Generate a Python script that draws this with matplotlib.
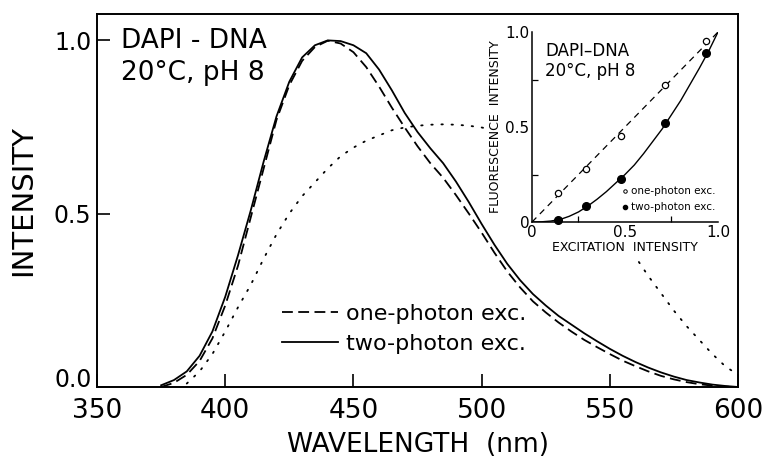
import numpy as np
import matplotlib.pyplot as plt
from matplotlib.patches import Rectangle
from matplotlib.transforms import ScaledTranslation

plt.rcParams['font.family'] = ['DejaVu Sans']

# main panel: emission spectra
wl = np.arange(375, 601, 5)
two_photon = [0.005, 0.02, 0.045, 0.09, 0.16, 0.26, 0.38, 0.51, 0.65, 0.78,
              0.88, 0.95, 0.985, 0.999, 0.997, 0.985, 0.962, 0.915, 0.855, 0.79,
              0.735, 0.688, 0.645, 0.592, 0.533, 0.47, 0.41, 0.355, 0.308, 0.268,
              0.235, 0.205, 0.18, 0.155, 0.132, 0.11, 0.09, 0.072, 0.056, 0.042,
              0.03, 0.02, 0.013, 0.007, 0.003, 0.0]
one_photon = [0.0, 0.012, 0.035, 0.075, 0.14, 0.235, 0.35, 0.49, 0.63, 0.77,
              0.87, 0.94, 0.98, 0.998, 0.99, 0.965, 0.922, 0.866, 0.805, 0.748,
              0.694, 0.645, 0.603, 0.553, 0.5, 0.445, 0.387, 0.333, 0.287, 0.247,
              0.215, 0.186, 0.16, 0.136, 0.115, 0.095, 0.076, 0.06, 0.045, 0.032,
              0.022, 0.014, 0.008, 0.004, 0.001, 0.0]
# dotted spectrum
wl_dot = np.arange(385, 601, 5)
dotted = [0.01, 0.045, 0.095, 0.16, 0.23, 0.295, 0.37, 0.44, 0.5, 0.55,
          0.59, 0.63, 0.665, 0.69, 0.71, 0.725, 0.74, 0.748, 0.753, 0.756,
          0.757, 0.756, 0.753, 0.748, 0.74, 0.73, 0.71, 0.69, 0.66, 0.63,
          0.6, 0.56, 0.52, 0.475, 0.43, 0.375, 0.32, 0.27, 0.22, 0.175,
          0.135, 0.095, 0.06, 0.035]

# inset: intensity dependence
exc_pts = [0.141, 0.29, 0.477, 0.713, 0.937]
fl_one = [0.151, 0.279, 0.454, 0.721, 0.953]
fl_two = [0.012, 0.084, 0.226, 0.52, 0.888]
fit_x = np.arange(0, 1.01, 0.05)
fit_two = [0.0, 0.001, 0.005, 0.013, 0.03, 0.053, 0.084, 0.12, 0.16, 0.205,
           0.25, 0.3, 0.36, 0.425, 0.49, 0.565, 0.64, 0.725, 0.81, 0.9, 1.0]

fig = plt.figure(figsize=(7.67, 4.61), dpi=100)
ax = fig.add_axes([0.1265, 0.1605, 0.8357, 0.8091])

ax.plot(wl_dot, dotted, color='k', linewidth=1.3, linestyle=(0, (0.8, 4.8)),
        dash_capstyle='round', zorder=1)
# white area behind the inset
ax.add_patch(Rectangle((0.607, 0.351), 0.368, 0.638, transform=ax.transAxes,
                       facecolor='white', edgecolor='none', zorder=2, clip_on=False))
ax.plot(wl, one_photon, color='k', linewidth=1.3, linestyle=(0, (6, 3)),
        label='one-photon exc.', zorder=3)
ax.plot(wl, two_photon, color='k', linewidth=1.3, label='two-photon exc.', zorder=3)

ax.set_xlim(350, 600)
ax.set_ylim(0, 1.075)
ax.set_xticks([350, 400, 450, 500, 550, 600])
ax.set_yticks([0, 0.5, 1.0])
ax.set_yticklabels(['0.0', '0.5', '1.0'])
ax.tick_params(axis='x', direction='in', length=9.5, width=1.2, labelsize=19, pad=8)
ax.tick_params(axis='y', direction='in', length=9.5, width=1.2, labelsize=17, pad=4)
# lift the 0.0 label a little, as in the original
lab0 = ax.get_yticklabels()[0]
lab0.set_transform(lab0.get_transform() + ScaledTranslation(0, 7 / 72, fig.dpi_scale_trans))
for s in ax.spines.values():
    s.set_linewidth(1.4)
ax.set_xlabel('WAVELENGTH  (nm)', fontsize=19, labelpad=6)
ax.set_ylabel('INTENSITY', fontsize=21, labelpad=12)

ax.text(359.5, 1.035, 'DAPI - DNA\n20°C, pH 8', fontsize=19, va='top', ha='left',
        linespacing=1.3)

ax.legend(loc='upper left', bbox_to_anchor=(0.289, 0.222), frameon=False,
          fontsize=16, handlelength=2.5, handletextpad=0.35, labelspacing=0.42,
          borderpad=0, borderaxespad=0)

# inset
ins = fig.add_axes([0.6936, 0.5184, 0.2425, 0.4121], facecolor='none')
ins.plot([0, 1], [0, 1], color='k', linewidth=0.9, linestyle=(0, (5, 4)))
ins.plot(fit_x, fit_two, color='k', linewidth=1.0)
ins.plot(exc_pts, fl_one, 'o', markersize=4.5, markerfacecolor='white',
         markeredgecolor='k', markeredgewidth=0.9, clip_on=False)
ins.plot(exc_pts, fl_two, 'o', markersize=5.5, color='k', clip_on=False)
ins.set_xlim(0, 1)
ins.set_ylim(0, 1)
ins.spines['top'].set_visible(False)
ins.spines['right'].set_visible(False)
for s in ['left', 'bottom']:
    ins.spines[s].set_linewidth(1.1)
ins.set_xticks([0, 0.5, 1.0])
ins.set_xticklabels(['0', '0.5', '1.0'])
ins.set_yticks([0, 0.5, 1.0])
ins.set_yticklabels(['0', '0.5', '1.0'])
ins.set_xticks([0.25, 0.5, 0.75], minor=True)
ins.set_yticks([0.25, 0.5, 0.75], minor=True)
ins.tick_params(which='major', length=0, labelsize=11, pad=2)
ins.tick_params(which='minor', direction='in', length=4, width=0.9)
ins.set_xlabel('EXCITATION  INTENSITY', fontsize=9, labelpad=1)
ins.set_ylabel('FLUORESCENCE  INTENSITY', fontsize=9, labelpad=2)
ins.text(0.07, 0.95, 'DAPI–DNA\n20°C, pH 8', fontsize=12, va='top', ha='left',
         transform=ins.transAxes, linespacing=1.15)
ins.plot([0.5], [0.165], 'o', markersize=2.5, markerfacecolor='white',
         markeredgecolor='k', markeredgewidth=0.7)
ins.plot([0.5], [0.08], 'o', markersize=3, color='k')
ins.text(0.53, 0.165, 'one-photon exc.', fontsize=7.5, va='center', ha='left')
ins.text(0.53, 0.08, 'two-photon exc.', fontsize=7.5, va='center', ha='left')

fig.savefig('out.png', dpi=100)
